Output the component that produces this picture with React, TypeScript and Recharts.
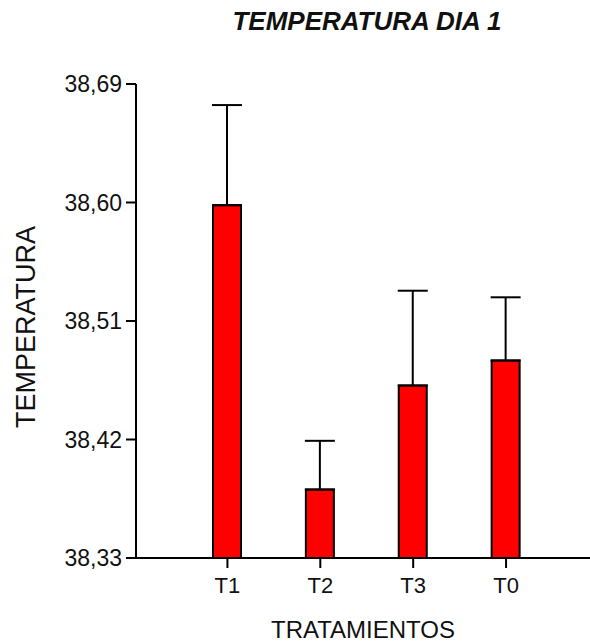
import { BarChart, Bar, XAxis, YAxis, ErrorBar, Label } from 'recharts';

const categories = ['T1', 'T2', 'T3', 'T0'];
const means = [38.598, 38.382, 38.461, 38.48];
const upperErrors = [0.076, 0.037, 0.072, 0.048];
const yTicks = [38.33, 38.42, 38.51, 38.6, 38.69];

const data = categories.map((name, i) => ({
  name,
  value: means[i],
  err: [0, upperErrors[i]],
}));

const FONT = '"Liberation Sans", Arial, Helvetica, sans-serif';

const YAxisTitle = ({ viewBox }: any) => {
  const cx = 26;
  const cy = viewBox.y + viewBox.height / 2 + 6;
  return (
    <text
      x={cx}
      y={cy}
      transform={`rotate(-90, ${cx}, ${cy})`}
      textAnchor="middle"
      dominantBaseline="central"
      fill="#111"
      fontFamily={FONT}
      fontSize={27}
    >
      TEMPERATURA
    </text>
  );
};

export default function App() {
  return (
    <div style={{ position: 'absolute', left: 0, top: 0, width: 590, height: 644, background: '#fff' }}>
      <div
        style={{
          position: 'absolute',
          left: 136,
          width: 462,
          top: 6,
          textAlign: 'center',
          fontFamily: FONT,
          fontSize: 26,
          fontWeight: 'bold',
          fontStyle: 'italic',
          color: '#111',
          lineHeight: '30px',
        }}
      >
        TEMPERATURA DIA 1
      </div>
      <BarChart
        width={590}
        height={644}
        data={data}
        margin={{ top: 84, right: 0, left: 0, bottom: 0 }}
      >
        <XAxis
          dataKey="name"
          height={86}
          padding={{ left: 45, right: 37.5 }}
          axisLine={{ stroke: '#000', strokeWidth: 2 }}
          tickLine={{ stroke: '#000', strokeWidth: 2 }}
          tickSize={10}
          tickMargin={9}
          tick={{ fill: '#111', fontSize: 22, fontFamily: FONT }}
        >
          <Label
            value="TRATAMIENTOS"
            position="insideBottom"
            offset={6}
            fill="#111"
            fontSize={24}
            fontFamily={FONT}
          />
        </XAxis>
        <YAxis
          width={136}
          type="number"
          domain={[38.33, 38.69]}
          ticks={yTicks}
          interval={0}
          axisLine={{ stroke: '#000', strokeWidth: 2 }}
          tickLine={{ stroke: '#000', strokeWidth: 2 }}
          tickSize={10}
          tickMargin={4}
          tick={{ fill: '#111', fontSize: 23, fontFamily: FONT }}
          tickFormatter={(v: number) => v.toFixed(2).replace('.', ',')}
        >
          <Label content={<YAxisTitle />} />
        </YAxis>
        <Bar
          dataKey="value"
          barSize={28}
          fill="#ff0000"
          stroke="#000"
          strokeWidth={2}
          isAnimationActive={false}
        >
          <ErrorBar
            dataKey="err"
            width={15}
            stroke="#000"
            strokeWidth={2}
            isAnimationActive={false}
          />
        </Bar>
      </BarChart>
    </div>
  );
}
